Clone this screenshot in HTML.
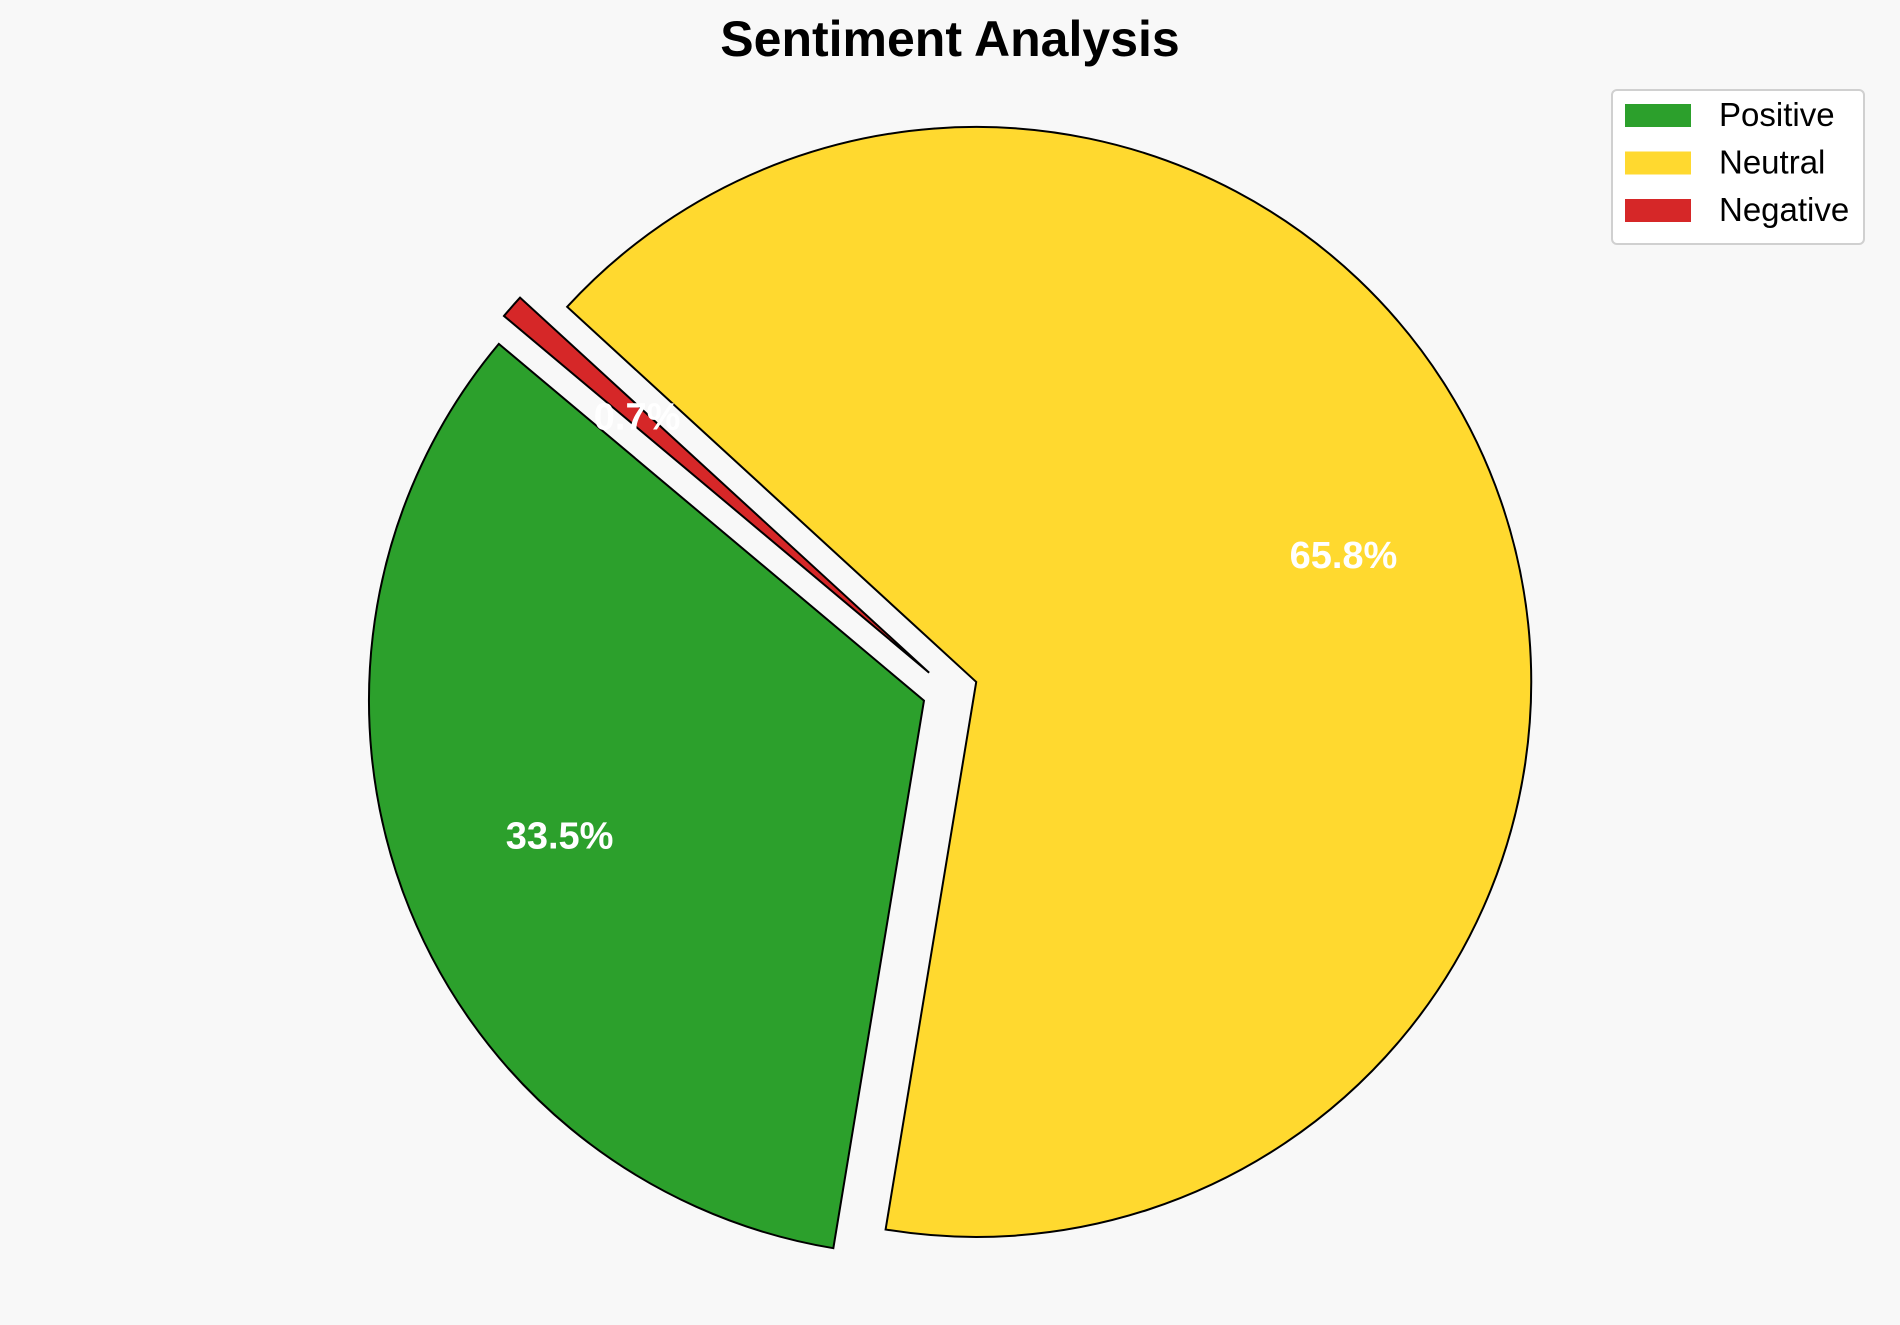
<!DOCTYPE html>
<html><head><meta charset="utf-8"><style>
html,body{margin:0;padding:0;background:#f8f8f8;}
svg{display:block;font-family:"Liberation Sans",Arial,sans-serif;}
</style></head><body>
<svg id="chart" width="1900" height="1325" viewBox="0 0 1900 1325">
<rect width="1900" height="1325" fill="#f8f8f8"/>
<text x="950" y="56" text-anchor="middle" font-size="50" font-weight="bold" fill="#000">Sentiment Analysis</text>
<g id="wedges"></g>
<g id="labels"></g>
<g>
<rect x="1612" y="90" width="252" height="154" rx="5" fill="#fff" stroke="#d0d0d0" stroke-width="2"/>
<g id="legend-items"></g>
</g>
</svg>
<script>
const categories = ["Positive","Neutral","Negative"];
const values = [33.5, 65.8, 0.7];
const colors = ["#2ca02c","#ffd92f","#d62728"];
const explode = [0.05,0.05,0.05];
const startAngle = 140;
const cx = 950, cy = 691, R = 555, pctDist = 0.7;
const NS = "http://www.w3.org/2000/svg";
const wg = document.getElementById('wedges');
const lg = document.getElementById('labels');
const total = values.reduce((a,b)=>a+b,0);
let a0 = startAngle;
values.forEach((v,i)=>{
  const sweep = v/total*360;
  const a1 = a0 + sweep;
  const mid = (a0+a1)/2*Math.PI/180;
  const ox = cx + explode[i]*R*Math.cos(mid);
  const oy = cy - explode[i]*R*Math.sin(mid);
  const r0 = a0*Math.PI/180, r1 = a1*Math.PI/180;
  const x0 = ox + R*Math.cos(r0), y0 = oy - R*Math.sin(r0);
  const x1 = ox + R*Math.cos(r1), y1 = oy - R*Math.sin(r1);
  const large = sweep > 180 ? 1 : 0;
  const p = document.createElementNS(NS,'path');
  p.setAttribute('d',`M${ox},${oy} L${x0},${y0} A${R},${R} 0 ${large} 0 ${x1},${y1} Z`);
  p.setAttribute('fill',colors[i]);
  p.setAttribute('stroke','#000');
  p.setAttribute('stroke-width','2');
  p.setAttribute('stroke-linejoin','miter');
  
  
  wg.appendChild(p);
  const t = document.createElementNS(NS,'text');
  t.setAttribute('x', ox + pctDist*R*Math.cos(mid));
  t.setAttribute('y', oy - pctDist*R*Math.sin(mid) + 13);
  t.setAttribute('text-anchor','middle');
  t.setAttribute('font-size','38');
  t.setAttribute('font-weight','bold');
  t.setAttribute('fill','#fff');
  t.textContent = v.toFixed(1) + '%';
  
  
  lg.appendChild(t);
  a0 = a1;
});
const li = document.getElementById('legend-items');
categories.forEach((c,i)=>{
  const y = 104 + i*47.5;
  const r = document.createElementNS(NS,'rect');
  r.setAttribute('x',1625); r.setAttribute('y',y);
  r.setAttribute('width',66); r.setAttribute('height',23);
  r.setAttribute('fill',colors[i]);
  
  
  li.appendChild(r);
  const t = document.createElementNS(NS,'text');
  t.setAttribute('x',1719); t.setAttribute('y',y+22);
  t.setAttribute('font-size','33'); t.setAttribute('fill','#000');
  t.textContent = c;
  
  
  li.appendChild(t);
});
</script>
</body></html>
